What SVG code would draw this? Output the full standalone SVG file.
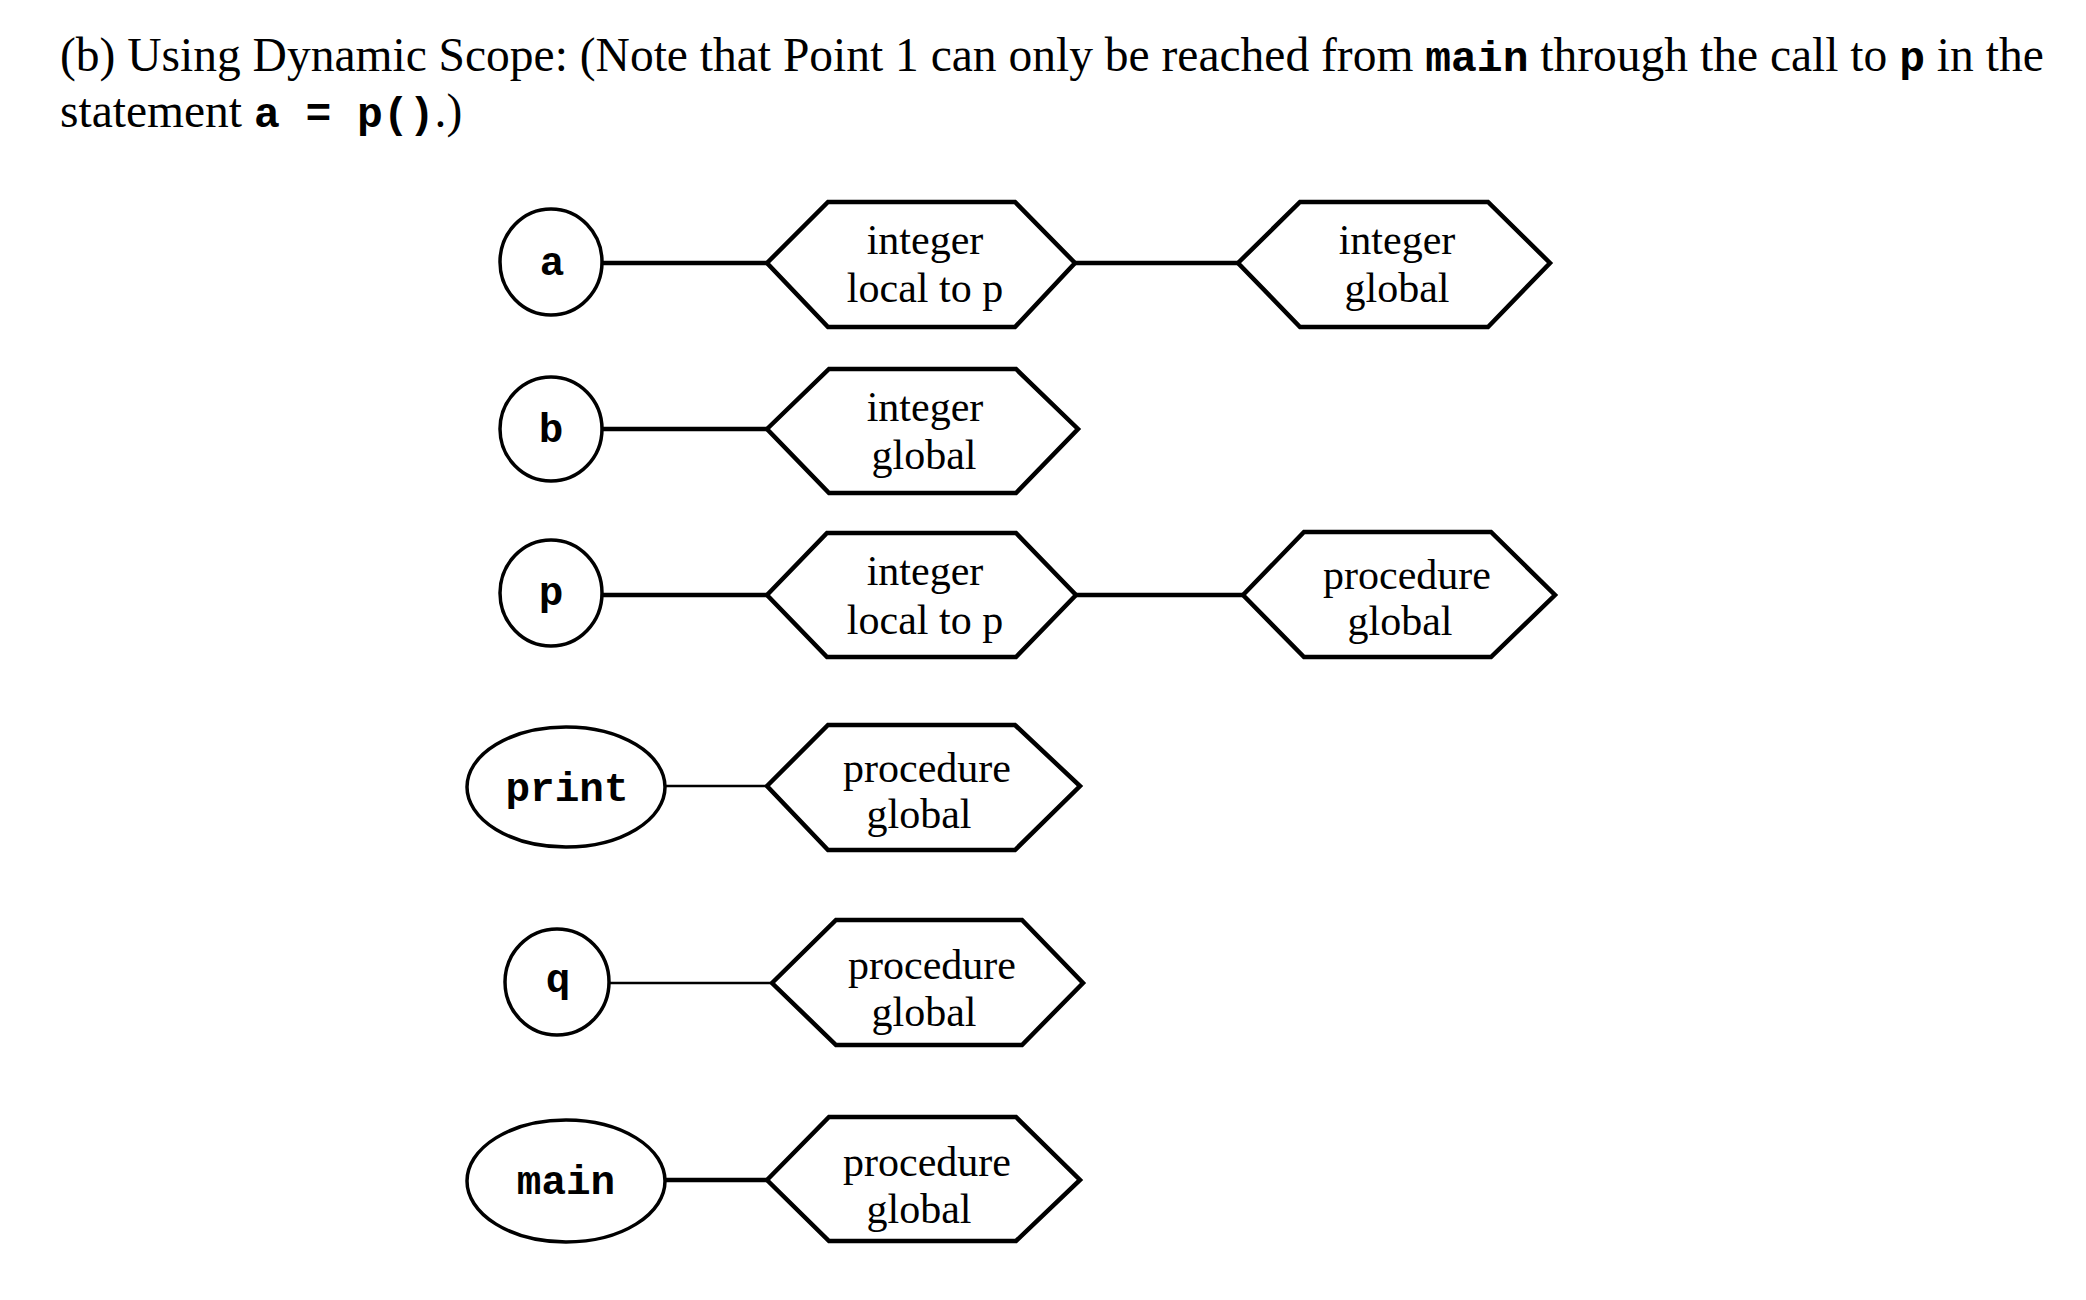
<svg xmlns="http://www.w3.org/2000/svg" width="2086" height="1300" viewBox="0 0 2086 1300">
<style>
.t{font-family:"Liberation Serif","Times New Roman",serif;font-size:47.5px;fill:#000}
.m{font-family:"Liberation Mono","Courier New",monospace;font-weight:bold;font-size:43px}
.hex{fill:#fff;stroke:#000;stroke-width:4.5;stroke-linejoin:miter}
.ell{fill:#fff;stroke:#000;stroke-width:3.5}
.lbl{font-family:"Liberation Mono","Courier New",monospace;font-weight:bold;font-size:41px;text-anchor:middle;fill:#000}
.ht{font-family:"Liberation Serif","Times New Roman",serif;font-size:42px;text-anchor:middle;fill:#000}
.c{stroke:#000;stroke-width:4.5;fill:none}
.cthin{stroke:#000;stroke-width:2.5;fill:none}
</style>
<rect width="2086" height="1300" fill="#fff"/>
<g id="title">
<text class="t" x="60" y="71">(b) Using Dynamic Scope: (Note that Point 1 can only be reached from <tspan class="m">main</tspan> through the call to <tspan class="m">p</tspan> in the</text>
<text class="t" x="60" y="127">statement <tspan class="m">a = p()</tspan>.)</text>
</g>
<g id="connectors">
<line class="c" x1="603" y1="263" x2="767" y2="263"/>
<line class="c" x1="1075" y1="263" x2="1238" y2="263"/>
<line class="c" x1="603" y1="429" x2="767" y2="429"/>
<line class="c" x1="603" y1="595" x2="767" y2="595"/>
<line class="c" x1="1076" y1="595" x2="1243" y2="595"/>
<line class="cthin" x1="665" y1="786" x2="767" y2="786"/>
<line class="cthin" x1="609" y1="983" x2="772" y2="983"/>
<line class="c" x1="665" y1="1180" x2="767" y2="1180"/>
</g>
<g id="node-a"><ellipse class="ell" cx="551" cy="262" rx="51" ry="53"/><text class="lbl" x="552" y="275">a</text></g>
<g id="node-b"><ellipse class="ell" cx="551" cy="429" rx="51" ry="52"/><text class="lbl" x="551" y="442">b</text></g>
<g id="node-p"><ellipse class="ell" cx="551" cy="593" rx="51" ry="53"/><text class="lbl" x="551" y="605">p</text></g>
<g id="node-print"><ellipse class="ell" cx="566" cy="787" rx="99" ry="60"/><text class="lbl" x="567" y="801">print</text></g>
<g id="node-q"><ellipse class="ell" cx="557" cy="982" rx="52" ry="53"/><text class="lbl" x="558" y="992">q</text></g>
<g id="node-main"><ellipse class="ell" cx="566" cy="1181" rx="99" ry="61"/><text class="lbl" x="566" y="1194">main</text></g>
<g id="hex-a1"><polygon class="hex" points="767,263 828,202 1015,202 1075,263 1015,327 828,327"/><text class="ht" x="925" y="254">integer</text><text class="ht" x="925" y="302">local to p</text></g>
<g id="hex-a2"><polygon class="hex" points="1238,263 1300,202 1488,202 1550,263 1488,327 1300,327"/><text class="ht" x="1397" y="254">integer</text><text class="ht" x="1397" y="302">global</text></g>
<g id="hex-b"><polygon class="hex" points="767,429 829,369 1016,369 1078,429 1016,493 829,493"/><text class="ht" x="925" y="421">integer</text><text class="ht" x="924" y="469">global</text></g>
<g id="hex-p1"><polygon class="hex" points="767,595 827,533 1016,533 1076,595 1016,657 827,657"/><text class="ht" x="925" y="585">integer</text><text class="ht" x="925" y="634">local to p</text></g>
<g id="hex-p2"><polygon class="hex" points="1243,595 1304,532 1491,532 1555,595 1491,657 1304,657"/><text class="ht" x="1407" y="589">procedure</text><text class="ht" x="1400" y="635">global</text></g>
<g id="hex-print"><polygon class="hex" points="767,786 828,725 1015,725 1080,786 1015,850 828,850"/><text class="ht" x="927" y="782">procedure</text><text class="ht" x="919" y="828">global</text></g>
<g id="hex-q"><polygon class="hex" points="772,983 836,920 1022,920 1083,983 1022,1045 836,1045"/><text class="ht" x="932" y="979">procedure</text><text class="ht" x="924" y="1026">global</text></g>
<g id="hex-main"><polygon class="hex" points="767,1180 829,1117 1016,1117 1080,1180 1016,1241 829,1241"/><text class="ht" x="927" y="1176">procedure</text><text class="ht" x="919" y="1223">global</text></g>
</svg>
